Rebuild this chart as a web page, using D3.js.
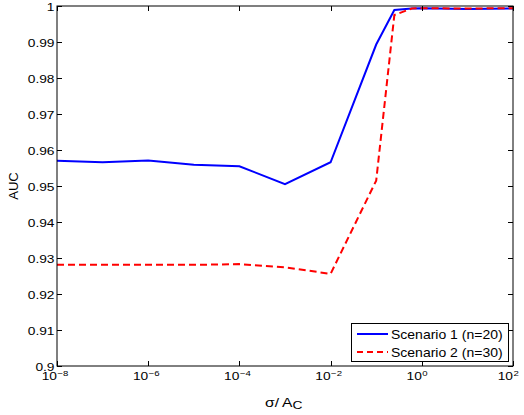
<!DOCTYPE html>
<html><head><meta charset="utf-8">
<script src="https://cdn.jsdelivr.net/npm/d3@7"></script>
<style>body{margin:0;background:#fff;} svg{display:block;} text{font-family:"Liberation Sans",Arial,sans-serif;fill:#000;}</style>
</head><body><svg id="c" width="524" height="415"></svg>
<script>
const xValues = [1e-8,1e-7,1e-6,1e-5,1e-4,1e-3,1e-2,1e-1,0.25,0.6,1,10,100];
const scenario1 = [0.9570,0.9566,0.9571,0.9559,0.9555,0.9505,0.9566,0.9893,0.9989,0.9993,0.9994,0.9992,0.9993];
const scenario2 = [0.9281,0.9281,0.9281,0.9281,0.9283,0.9274,0.9256,0.9515,0.9975,0.9993,0.9994,0.9993,0.9994];
const seriesNames = ["Scenario 1 (n=20)","Scenario 2 (n=30)"];
const xTickExps = [-8,-6,-4,-2,0,2];
const yTicks = [0.9,0.91,0.92,0.93,0.94,0.95,0.96,0.97,0.98,0.99,1];

const svg = d3.select("#c");
const L=57,R=513,T=6,B=366;
const x = d3.scaleLog().domain([1e-8,1e2]).range([L,R]);
const y = d3.scaleLinear().domain([0.9,1]).range([B,T]);

function stext(px,py,fs,sx,anchor){
  return svg.append("text").attr("transform","translate("+px+","+py+") scale("+sx+",1)")
    .attr("text-anchor",anchor).attr("font-size",fs);
}

const line = d3.line().x((d,i)=>x(xValues[i])).y(d=>y(d));
svg.append("path").datum(scenario1).attr("d",line).attr("fill","none").attr("stroke","#0000ff").attr("stroke-width",2);
svg.append("path").datum(scenario2).attr("d",line).attr("fill","none").attr("stroke","#ff0000").attr("stroke-width",2).attr("stroke-dasharray","7,4");

svg.append("rect").attr("x",L).attr("y",T).attr("width",R-L).attr("height",B-T).attr("fill","none").attr("stroke","#000").attr("stroke-width",1);

const tl=5;
yTicks.forEach(v=>{
  const yy=Math.round(y(v))+0.5;
  svg.append("line").attr("x1",L).attr("x2",L+tl).attr("y1",yy).attr("y2",yy).attr("stroke","#000");
  svg.append("line").attr("x1",R).attr("x2",R-tl).attr("y1",yy).attr("y2",yy).attr("stroke","#000");
  stext(54.5,y(v)+5,11,1.25,"end").text(d3.format("~g")(v));
});
xTickExps.forEach(e=>{
  const xx=Math.round(x(Math.pow(10,e)))+0.5;
  svg.append("line").attr("x1",xx).attr("x2",xx).attr("y1",B).attr("y2",B-tl).attr("stroke","#000");
  svg.append("line").attr("x1",xx).attr("x2",xx).attr("y1",T).attr("y2",T+tl).attr("stroke","#000");
  const t=stext(x(Math.pow(10,e)),380,11,1.25,"end");
  t.append("tspan").text("10");
  const s=stext(x(Math.pow(10,e))+0.5,375.5,8,1.2,"start");
  s.text(e<0?"\u2212"+(-e):String(e));
});

svg.append("text").attr("transform","translate(18,"+((T+B)/2)+") rotate(-90)").attr("text-anchor","middle").attr("font-size",13).text("AUC");
const xl=stext(265,407,12.5,1.25,"start");
xl.append("tspan").text("\u03c3/\u2009A");
xl.append("tspan").attr("dy",2).attr("font-size",11).text("C");

const lg=svg.append("g");
lg.append("rect").attr("x",351.5).attr("y",323.5).attr("width",157).attr("height",38).attr("fill","#fff").attr("stroke","#000");
const cols=["#0000ff","#ff0000"], dash=[null,"6,4"];
seriesNames.forEach((n,i)=>{
  const yy=334+i*18;
  lg.append("line").attr("x1",357).attr("x2",388).attr("y1",yy).attr("y2",yy).attr("stroke",cols[i]).attr("stroke-width",2).attr("stroke-dasharray",dash[i]);
  lg.append("text").attr("transform","translate(391,"+(yy+4.5)+") scale(1.12,1)").attr("font-size",12.5).text(n);
});
</script></body></html>
